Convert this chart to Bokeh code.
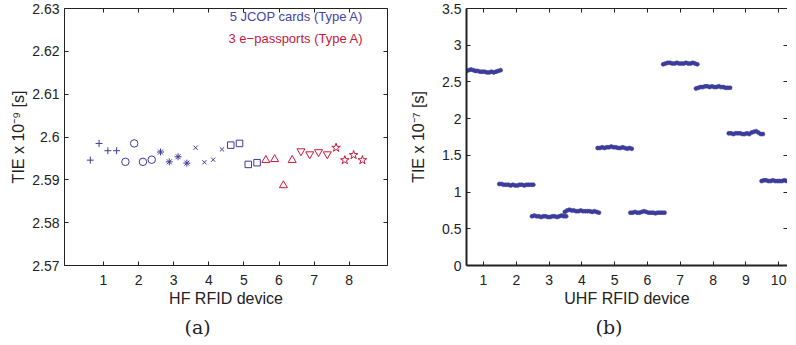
from bokeh.plotting import figure
from bokeh.layouts import row
from bokeh.models import Label, Title, LinearAxis, FixedTicker, Range1d
from bokeh.embed import file_html
from bokeh.resources import INLINE

BLUE = "#3c3c9c"
RED = "#c8183c"
TXT = "#222222"
FONT = "Liberation Sans"

# ---------------- data: (a) HF RFID devices ----------------
hf_devices = [1, 2, 3, 4, 5, 6, 7, 8]
hf_markers = ["cross", "circle", "asterisk", "x", "square", "triangle", "inverted_triangle", "star"]
hf_groups = ["JCOP", "JCOP", "JCOP", "JCOP", "JCOP", "passport", "passport", "passport"]
hf_tie = [
    [2.5946, 2.5985, 2.5968, 2.5968],
    [2.5942, 2.5985, 2.5942, 2.5947],
    [2.5965, 2.5942, 2.5954, 2.5939],
    [2.5975, 2.5941, 2.5947, 2.5971],
    [2.5981, 2.5985, 2.5936, 2.5940],
    [2.5946, 2.5948, 2.5887, 2.5946],
    [2.5967, 2.5960, 2.5965, 2.5960],
    [2.5975, 2.5946, 2.5958, 2.5946],
]
hf_yticks = [2.57, 2.58, 2.59, 2.60, 2.61, 2.62, 2.63]
hf_ylabels = ["2.57", "2.58", "2.59", "2.6", "2.61", "2.62", "2.63"]
legend_texts = ["5 JCOP cards (Type A)", "3 e\u2212passports (Type A)"]

# ---------------- data: (b) UHF RFID devices ----------------
uhf_devices = [1, 2, 3, 4, 5, 6, 7, 8, 9, 10]
uhf_tie = [
    [2.65, 2.66, 2.67, 2.66, 2.65, 2.65, 2.64, 2.64, 2.64, 2.63, 2.63, 2.64, 2.63, 2.64, 2.65, 2.66],
    [1.11, 1.11, 1.10, 1.10, 1.10, 1.09, 1.10, 1.09, 1.09, 1.10, 1.10, 1.09, 1.10, 1.10, 1.10, 1.10],
    [0.67, 0.68, 0.67, 0.67, 0.66, 0.67, 0.67, 0.66, 0.66, 0.67, 0.67, 0.66, 0.67, 0.68, 0.67, 0.67],
    [0.73, 0.75, 0.76, 0.75, 0.75, 0.74, 0.74, 0.75, 0.74, 0.74, 0.74, 0.74, 0.73, 0.74, 0.73, 0.72],
    [1.60, 1.60, 1.61, 1.60, 1.61, 1.61, 1.62, 1.61, 1.61, 1.60, 1.60, 1.61, 1.60, 1.59, 1.60, 1.59],
    [0.72, 0.72, 0.73, 0.72, 0.72, 0.73, 0.74, 0.73, 0.72, 0.72, 0.72, 0.71, 0.72, 0.72, 0.72, 0.72],
    [2.74, 2.75, 2.76, 2.76, 2.75, 2.75, 2.76, 2.75, 2.75, 2.75, 2.76, 2.75, 2.75, 2.76, 2.75, 2.74],
    [2.41, 2.42, 2.43, 2.43, 2.44, 2.44, 2.43, 2.44, 2.43, 2.43, 2.44, 2.43, 2.43, 2.42, 2.42, 2.42],
    [1.80, 1.80, 1.79, 1.80, 1.80, 1.80, 1.79, 1.79, 1.80, 1.79, 1.81, 1.82, 1.83, 1.81, 1.79, 1.79],
    [1.15, 1.16, 1.16, 1.15, 1.15, 1.16, 1.15, 1.15, 1.15, 1.15, 1.16, 1.15, 1.15, 1.14, 1.15, 1.15],
]
uhf_yticks = [0, 0.5, 1, 1.5, 2, 2.5, 3, 3.5]
uhf_ylabels = ["0", "0.5", "1", "1.5", "2", "2.5", "3", "3.5"]


def style_axis(ax, ticks, labels=None, show_labels=True, line_width=1):
    ax.ticker = FixedTicker(ticks=ticks)
    ax.major_tick_in = 4
    ax.major_tick_out = 0
    ax.minor_tick_in = 0
    ax.minor_tick_out = 0
    ax.axis_line_color = TXT
    ax.axis_line_width = line_width
    ax.major_tick_line_color = TXT
    ax.major_label_text_font = FONT
    ax.major_label_text_font_size = "14px"
    ax.major_label_text_color = TXT
    ax.axis_label_text_font = FONT
    ax.axis_label_text_font_size = "16px"
    ax.axis_label_text_font_style = "normal"
    ax.axis_label_text_color = TXT
    if labels is not None:
        ax.major_label_overrides = {t: l for t, l in zip(ticks, labels)}
    if not show_labels:
        ax.major_label_overrides = {t: "" for t in ticks}
        ax.major_label_standoff = 0


def make_fig(xr, yr, fw, fh, mb_left, mb_right):
    p = figure(frame_width=fw, frame_height=fh, x_range=xr, y_range=yr,
               output_backend="svg", toolbar_location=None,
               min_border_left=mb_left, min_border_right=mb_right,
               min_border_top=8, min_border_bottom=0,
               background_fill_color="white", border_fill_color="white")
    p.grid.visible = False
    p.outline_line_color = None
    return p


# ---------------- figure (a) ----------------
p1 = make_fig(Range1d(-0.11, 9.09), Range1d(2.57, 2.63), 323, 257, 64, 11)
for dev, mk, grp, vals in zip(hf_devices, hf_markers, hf_groups, hf_tie):
    xs = [dev - 0.375 + 0.25 * k for k in range(len(vals))]
    col = BLUE if grp == "JCOP" else RED
    size = {"cross": 7, "circle": 7.5, "asterisk": 7, "x": 6, "square": 6.5,
            "triangle": 8, "inverted_triangle": 8, "star": 9}[mk]
    p1.scatter(xs, vals, marker=mk, size=size, line_color=col, fill_color=None, line_width=1)

style_axis(p1.xaxis[0], hf_devices)
style_axis(p1.yaxis[0], hf_yticks, hf_ylabels)
p1.xaxis[0].axis_label = "HF RFID device"
p1.yaxis[0].axis_label = "TIE x 10\u207b\u2079 [s]"
p1.xaxis[0].major_label_standoff = 9
p1.xaxis[0].axis_label_standoff = 2
p1.yaxis[0].major_label_standoff = 5
p1.yaxis[0].axis_label_standoff = 2
top1 = LinearAxis()
style_axis(top1, hf_devices, show_labels=False)
p1.add_layout(top1, "above")
right1 = LinearAxis()
style_axis(right1, hf_yticks, show_labels=False)
p1.add_layout(right1, "right")

p1.add_layout(Label(x=8.4, y=2.6281, text=legend_texts[0], text_align="right",
                    text_baseline="middle", text_color="#4444a8", text_font=FONT,
                    text_font_size="13px"))
p1.add_layout(Label(x=8.4, y=2.6230, text=legend_texts[1], text_align="right",
                    text_baseline="middle", text_color=RED, text_font=FONT,
                    text_font_size="13px"))
p1.add_layout(Title(text="(a)", align="left", offset=120, text_font="DejaVu Serif",
                    text_font_size="19px", text_font_style="normal", text_color=TXT,
                    standoff=8), "below")

# ---------------- figure (b) ----------------
p2 = make_fig(Range1d(0.482, 10.27), Range1d(0, 3.5), 321, 257, 68, 0)
for dev, vals in zip(uhf_devices, uhf_tie):
    n = len(vals)
    xs = [dev - 0.52 + 1.04 * i / (n - 1) for i in range(n)]
    p2.scatter(xs, vals, marker="circle", size=4, line_color=BLUE, fill_color=BLUE,
               line_width=0.6)

style_axis(p2.xaxis[0], uhf_devices, line_width=2)
style_axis(p2.yaxis[0], uhf_yticks, uhf_ylabels, line_width=2)
p2.xaxis[0].axis_label = "UHF RFID device"
p2.yaxis[0].axis_label = "TIE x 10\u207b\u2077 [s]"
p2.xaxis[0].major_label_standoff = 9
p2.xaxis[0].axis_label_standoff = 2
p2.yaxis[0].major_label_standoff = 5
p2.yaxis[0].axis_label_standoff = 12
top2 = LinearAxis()
style_axis(top2, uhf_devices, show_labels=False)
p2.add_layout(top2, "above")
right2 = LinearAxis()
style_axis(right2, uhf_yticks, show_labels=False)
right2.axis_line_color = None
p2.add_layout(right2, "right")
p2.add_layout(Title(text="(b)", align="left", offset=129, text_font="DejaVu Serif",
                    text_font_size="19px", text_font_style="normal", text_color=TXT,
                    standoff=8), "below")

layout = row(p1, p2)
open("out.html", "w").write(file_html(layout, INLINE))
